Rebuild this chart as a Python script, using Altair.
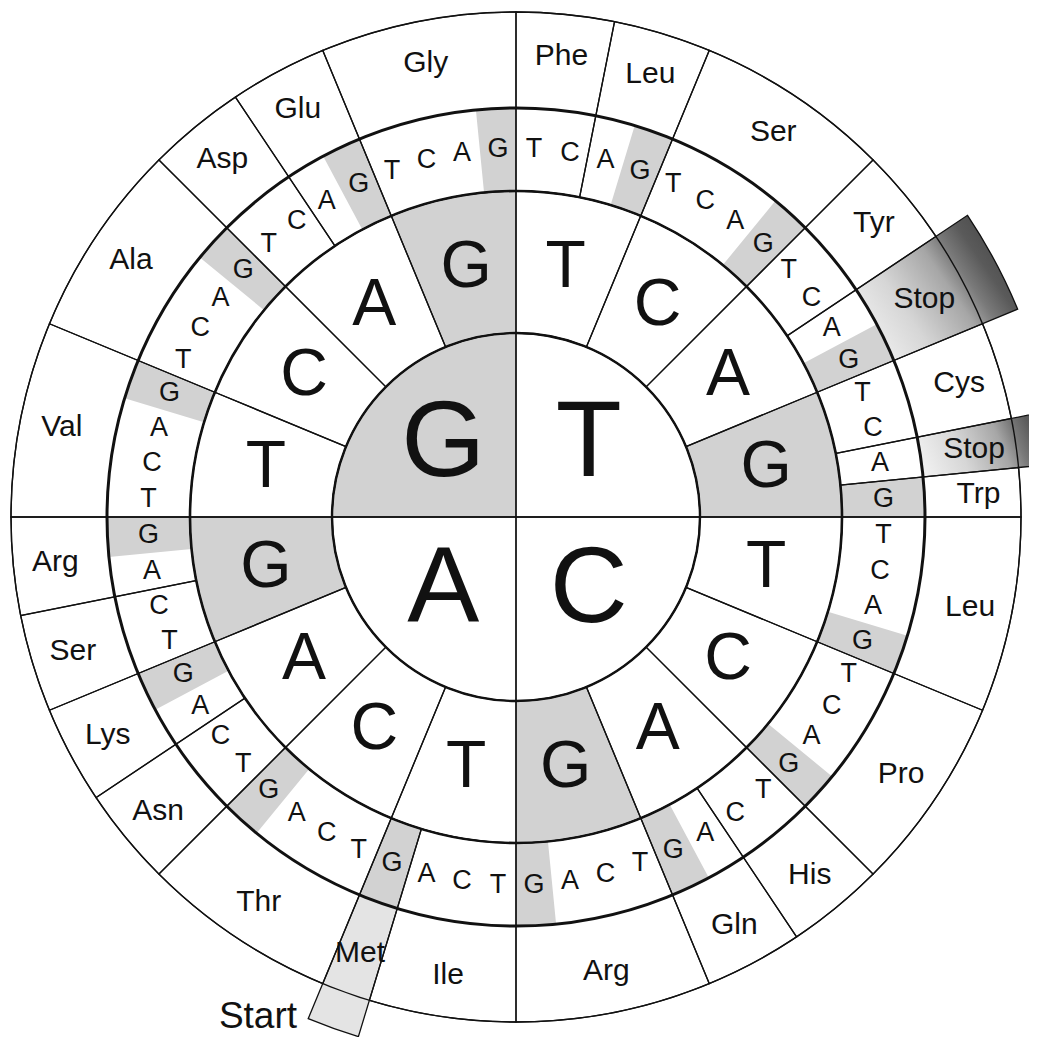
import math
import altair as alt
import pandas as pd

# ---------------- data ----------------
bases = ["T", "C", "A", "G"]
amino_labels = ["Phe", "Leu", "Ser", "Tyr", "Stop", "Cys", "Stop", "Trp",
                "Leu", "Pro", "His", "Gln", "Arg",
                "Ile", "Met", "Thr", "Asn", "Lys", "Ser", "Arg",
                "Val", "Ala", "Asp", "Glu", "Gly"]
amino_codons = [2, 2, 4, 2, 2, 2, 1, 1,
                4, 4, 2, 2, 4,
                3, 1, 4, 2, 2, 2, 2,
                4, 4, 2, 2, 4]
start_label = "Start"

# ---------------- layout ----------------
R_CORE, R_MID, R_CODON, R_OUT, R_EXT = 184, 326, 409, 505, 543
CX, CY = 508, 509
GRAY = "#d2d2d2"
INK = "#111111"
FONT = "Liberation Sans"

theta_scale = alt.Scale(domain=[0, 64], range=[0, 2 * math.pi])
rad_scale = alt.Scale(type="linear", domain=[0, 600], range=[0, 600], zero=True)

center = pd.DataFrame({
    "base": bases,
    "t0": [16 * i for i in range(4)],
    "t1": [16 * i + 16 for i in range(4)],
})
center["tm"] = center["t0"] + 8
center["r0"] = 0
center["r1"] = R_CORE
center["rt"] = 103

ring2 = pd.DataFrame({
    "base": [bases[j % 4] for j in range(16)],
    "t0": [4 * j for j in range(16)],
    "t1": [4 * j + 4 for j in range(16)],
})
ring2["tm"] = ring2["t0"] + 2
ring2["r0"] = R_CORE
ring2["r1"] = R_MID
ring2["rt"] = 255

ring3 = pd.DataFrame({
    "base": [bases[k % 4] for k in range(64)],
    "t0": list(range(64)),
    "t1": [k + 1 for k in range(64)],
})
ring3["tm"] = ring3["t0"] + 0.5
ring3["r0"] = R_MID
ring3["r1"] = R_CODON
ring3["rt"] = 368

starts = []
acc = 0
for n in amino_codons:
    starts.append(acc)
    acc += n
amino = pd.DataFrame({"label": amino_labels, "t0": starts,
                      "t1": [s + n for s, n in zip(starts, amino_codons)]})
amino["tm"] = (amino["t0"] + amino["t1"]) / 2
special = amino["label"].isin(["Stop", "Met"])
amino["r0"] = R_MID
amino["r1"] = [R_EXT if s else R_OUT for s in special]
amino["rf0"] = R_CODON
amino["rt"] = 463

met_row = amino[amino["label"] == "Met"].iloc[0]
start_df = pd.DataFrame({"label": [start_label], "tm": [met_row["tm"] + 1.35], "rt": [563]})

circles = pd.DataFrame({"r": [R_CORE, R_MID, R_CODON, R_OUT],
                        "w": [2.4, 2.6, 3.0, 1.4]})
circles["t0"] = 0
circles["t1"] = 64


def arcs(df, outer, inner, **kw):
    enc = dict(
        theta=alt.Theta("t0:Q", scale=theta_scale, stack=None),
        theta2="t1:Q",
        radius=alt.Radius(f"{outer}:Q", scale=rad_scale),
        x=alt.value(CX), y=alt.value(CY),
    )
    if inner is not None:
        enc["radius2"] = f"{inner}:Q"
    return alt.Chart(df).mark_arc(**kw).encode(**enc)


def texts(df, size, field="base"):
    return alt.Chart(df).mark_text(
        font=FONT, fontSize=size, align="center", baseline="middle", color=INK
    ).encode(
        theta=alt.Theta("tm:Q", scale=theta_scale, stack=None),
        radius=alt.Radius("rt:Q", scale=rad_scale),
        text=f"{field}:N",
        x=alt.value(CX), y=alt.value(CY),
    )


def grad(stops, x1, y1, x2, y2):
    return alt.LinearGradient(
        gradient="linear",
        stops=[alt.GradientStop(color=c, offset=o) for o, c in stops],
        x1=x1, y1=y1, x2=x2, y2=y2,
    )


stop_stops = [(0.0, "#f0f0f0"), (0.3, "#d6d6d6"), (0.6, "#a6a6a6"),
              (0.72, "#7a7a7a"), (0.85, "#5a5a5a"), (1.0, "#4c4c4c")]

stop_rows = amino[amino["label"] == "Stop"]
stop1 = stop_rows.iloc[[0]]
stop2 = stop_rows.iloc[[1]]
met_df = amino[amino["label"] == "Met"]

layers = [
    # shading
    arcs(center[center["base"] == "G"], "r1", "r0", fill=GRAY),
    arcs(ring2[ring2["base"] == "G"], "r1", "r0", fill=GRAY),
    arcs(ring3[ring3["base"] == "G"], "r1", "r0", fill=GRAY),
    arcs(stop1, "r1", "rf0", fill=grad(stop_stops, 0.05, 0.85, 0.95, 0.3)),
    arcs(stop2, "r1", "rf0", fill=grad(stop_stops, 0.0, 0.6, 1.0, 0.4)),
    arcs(met_df, "r1", "rf0", fill="#e4e4e4"),
    # outlines
    arcs(amino, "r1", "r0", fill="white", fillOpacity=0, stroke=INK, strokeWidth=1.3),
    arcs(ring2, "r1", "r0", fill="white", fillOpacity=0, stroke=INK, strokeWidth=1.3),
    arcs(center, "r1", "r0", fill="white", fillOpacity=0, stroke=INK, strokeWidth=1.3),
    arcs(circles, "r", None, fill="white", fillOpacity=0, stroke=INK).encode(
        strokeWidth=alt.StrokeWidth("w:Q", scale=None)),
    # labels
    texts(center, 108),
    texts(ring2, 66),
    texts(ring3, 27),
    texts(amino, 30, "label"),
    texts(start_df, 37, "label"),
]

chart = alt.layer(*layers).properties(
    width=1021, height=1029, padding=0,
    autosize=alt.AutoSizeParams(type="none"),
    background="white",
).configure_view(stroke=None)

chart.save("out.html", embed_options={"renderer": "svg", "actions": False})
